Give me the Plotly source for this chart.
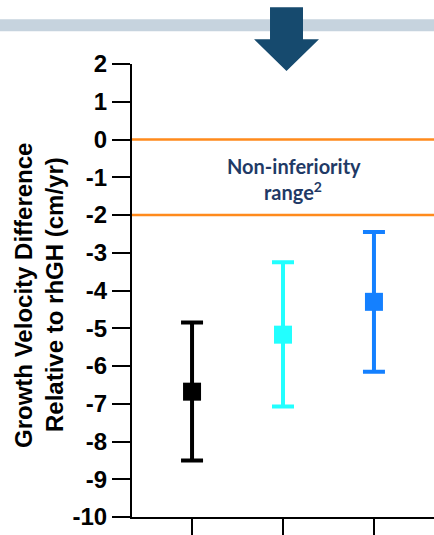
import plotly.graph_objects as go

# ---- data ----
groups = ["Group A", "Group B", "Group C"]
means = [-6.68, -5.17, -4.30]
upper = [-4.85, -3.25, -2.45]
lower = [-8.50, -7.07, -6.15]
colors = ["#000000", "#22FFFF", "#1480FF"]
ytick_vals = [2, 1, 0, -1, -2, -3, -4, -5, -6, -7, -8, -9, -10]
ytick_text = ["2", "1", "0", "-1", "-2", "-3", "-4", "-5", "-6", "-7", "-8", "-9", "-10"]
margin_lines = [0, -2]

W, H = 434, 535
L, R, T, B = 132, 0, 64, 16
PW, PH = W - L - R, H - T - B


def px(x):
    return (x - L) / PW


def py(y):
    return (H - B - y) / PH


fig = go.Figure()
for i, g in enumerate(groups):
    fig.add_trace(go.Scatter(
        x=[i], y=[means[i]], mode="markers", name=g,
        marker=dict(symbol="square", size=18, color=colors[i]),
        error_y=dict(type="data", symmetric=False,
                     array=[upper[i] - means[i]],
                     arrayminus=[means[i] - lower[i]],
                     color=colors[i], thickness=4, width=11),
        showlegend=False,
    ))

shapes = []
for v in margin_lines:
    shapes.append(dict(type="line", xref="paper", yref="y", x0=0, x1=1, y0=v, y1=v,
                       line=dict(color="#FF8A1C", width=2.5), layer="below"))

# decorative header band and arrow
shapes.append(dict(type="rect", xref="paper", yref="paper",
                   x0=px(0), x1=px(W), y0=py(31), y1=py(19),
                   fillcolor="#C6D3DE", line=dict(width=0)))
arrow_pts = [(270, 7), (303, 7), (303, 39), (319, 39), (286.5, 71), (254, 39), (270, 39)]
path = "M " + " L ".join(f"{px(a):.4f},{py(b):.4f}" for a, b in arrow_pts) + " Z"
shapes.append(dict(type="path", xref="paper", yref="paper", path=path,
                   fillcolor="#164A6E", line=dict(width=0)))

title_font = dict(family="Liberation Sans, Arial", size=24, color="#000000")
note_font = dict(family="Lato", size=20, color="#1F3A66")
annotations = [
    dict(text="<b>Growth Velocity Difference</b>", xref="paper", yref="paper",
         x=px(24), y=py(297), textangle=-90, showarrow=False, font=title_font,
         xanchor="center", yanchor="middle"),
    dict(text="<b>Relative to rhGH (cm/yr)</b>", xref="paper", yref="paper",
         x=px(55), y=py(295), textangle=-90, showarrow=False, font=title_font,
         xanchor="center", yanchor="middle"),
    dict(text="<b>Non-inferiority</b>", xref="paper", yref="paper",
         x=px(294), y=py(166), showarrow=False, font=note_font,
         xanchor="center", yanchor="middle"),
    dict(text="<b>range<sup>2</sup></b>", xref="paper", yref="paper",
         x=px(293), y=py(192), showarrow=False, font=note_font,
         xanchor="center", yanchor="middle"),
]

fig.update_layout(
    width=W, height=H,
    margin=dict(l=L, r=R, t=T, b=B, pad=0),
    paper_bgcolor="white", plot_bgcolor="white",
    shapes=shapes, annotations=annotations,
    xaxis=dict(range=[-0.66, 2.66], tickvals=[0, 1, 2], showticklabels=False,
               ticks="outside", ticklen=18, tickwidth=2, tickcolor="black",
               showline=True, linecolor="black", linewidth=2,
               showgrid=False, zeroline=False, fixedrange=True),
    yaxis=dict(range=[-10, 2], tickvals=ytick_vals,
               ticktext=["<b>" + t + "</b>" for t in ytick_text],
               ticks="outside", ticklen=18, tickwidth=2, tickcolor="black",
               showline=True, linecolor="black", linewidth=2,
               showgrid=False, zeroline=False,
               tickfont=dict(family="Liberation Sans, Arial", size=24, color="black")),
)

fig.write_html(
    "out.html",
    config={"displayModeBar": False},
    post_script="document.body.style.margin='0';document.body.style.overflow='hidden';",
)
